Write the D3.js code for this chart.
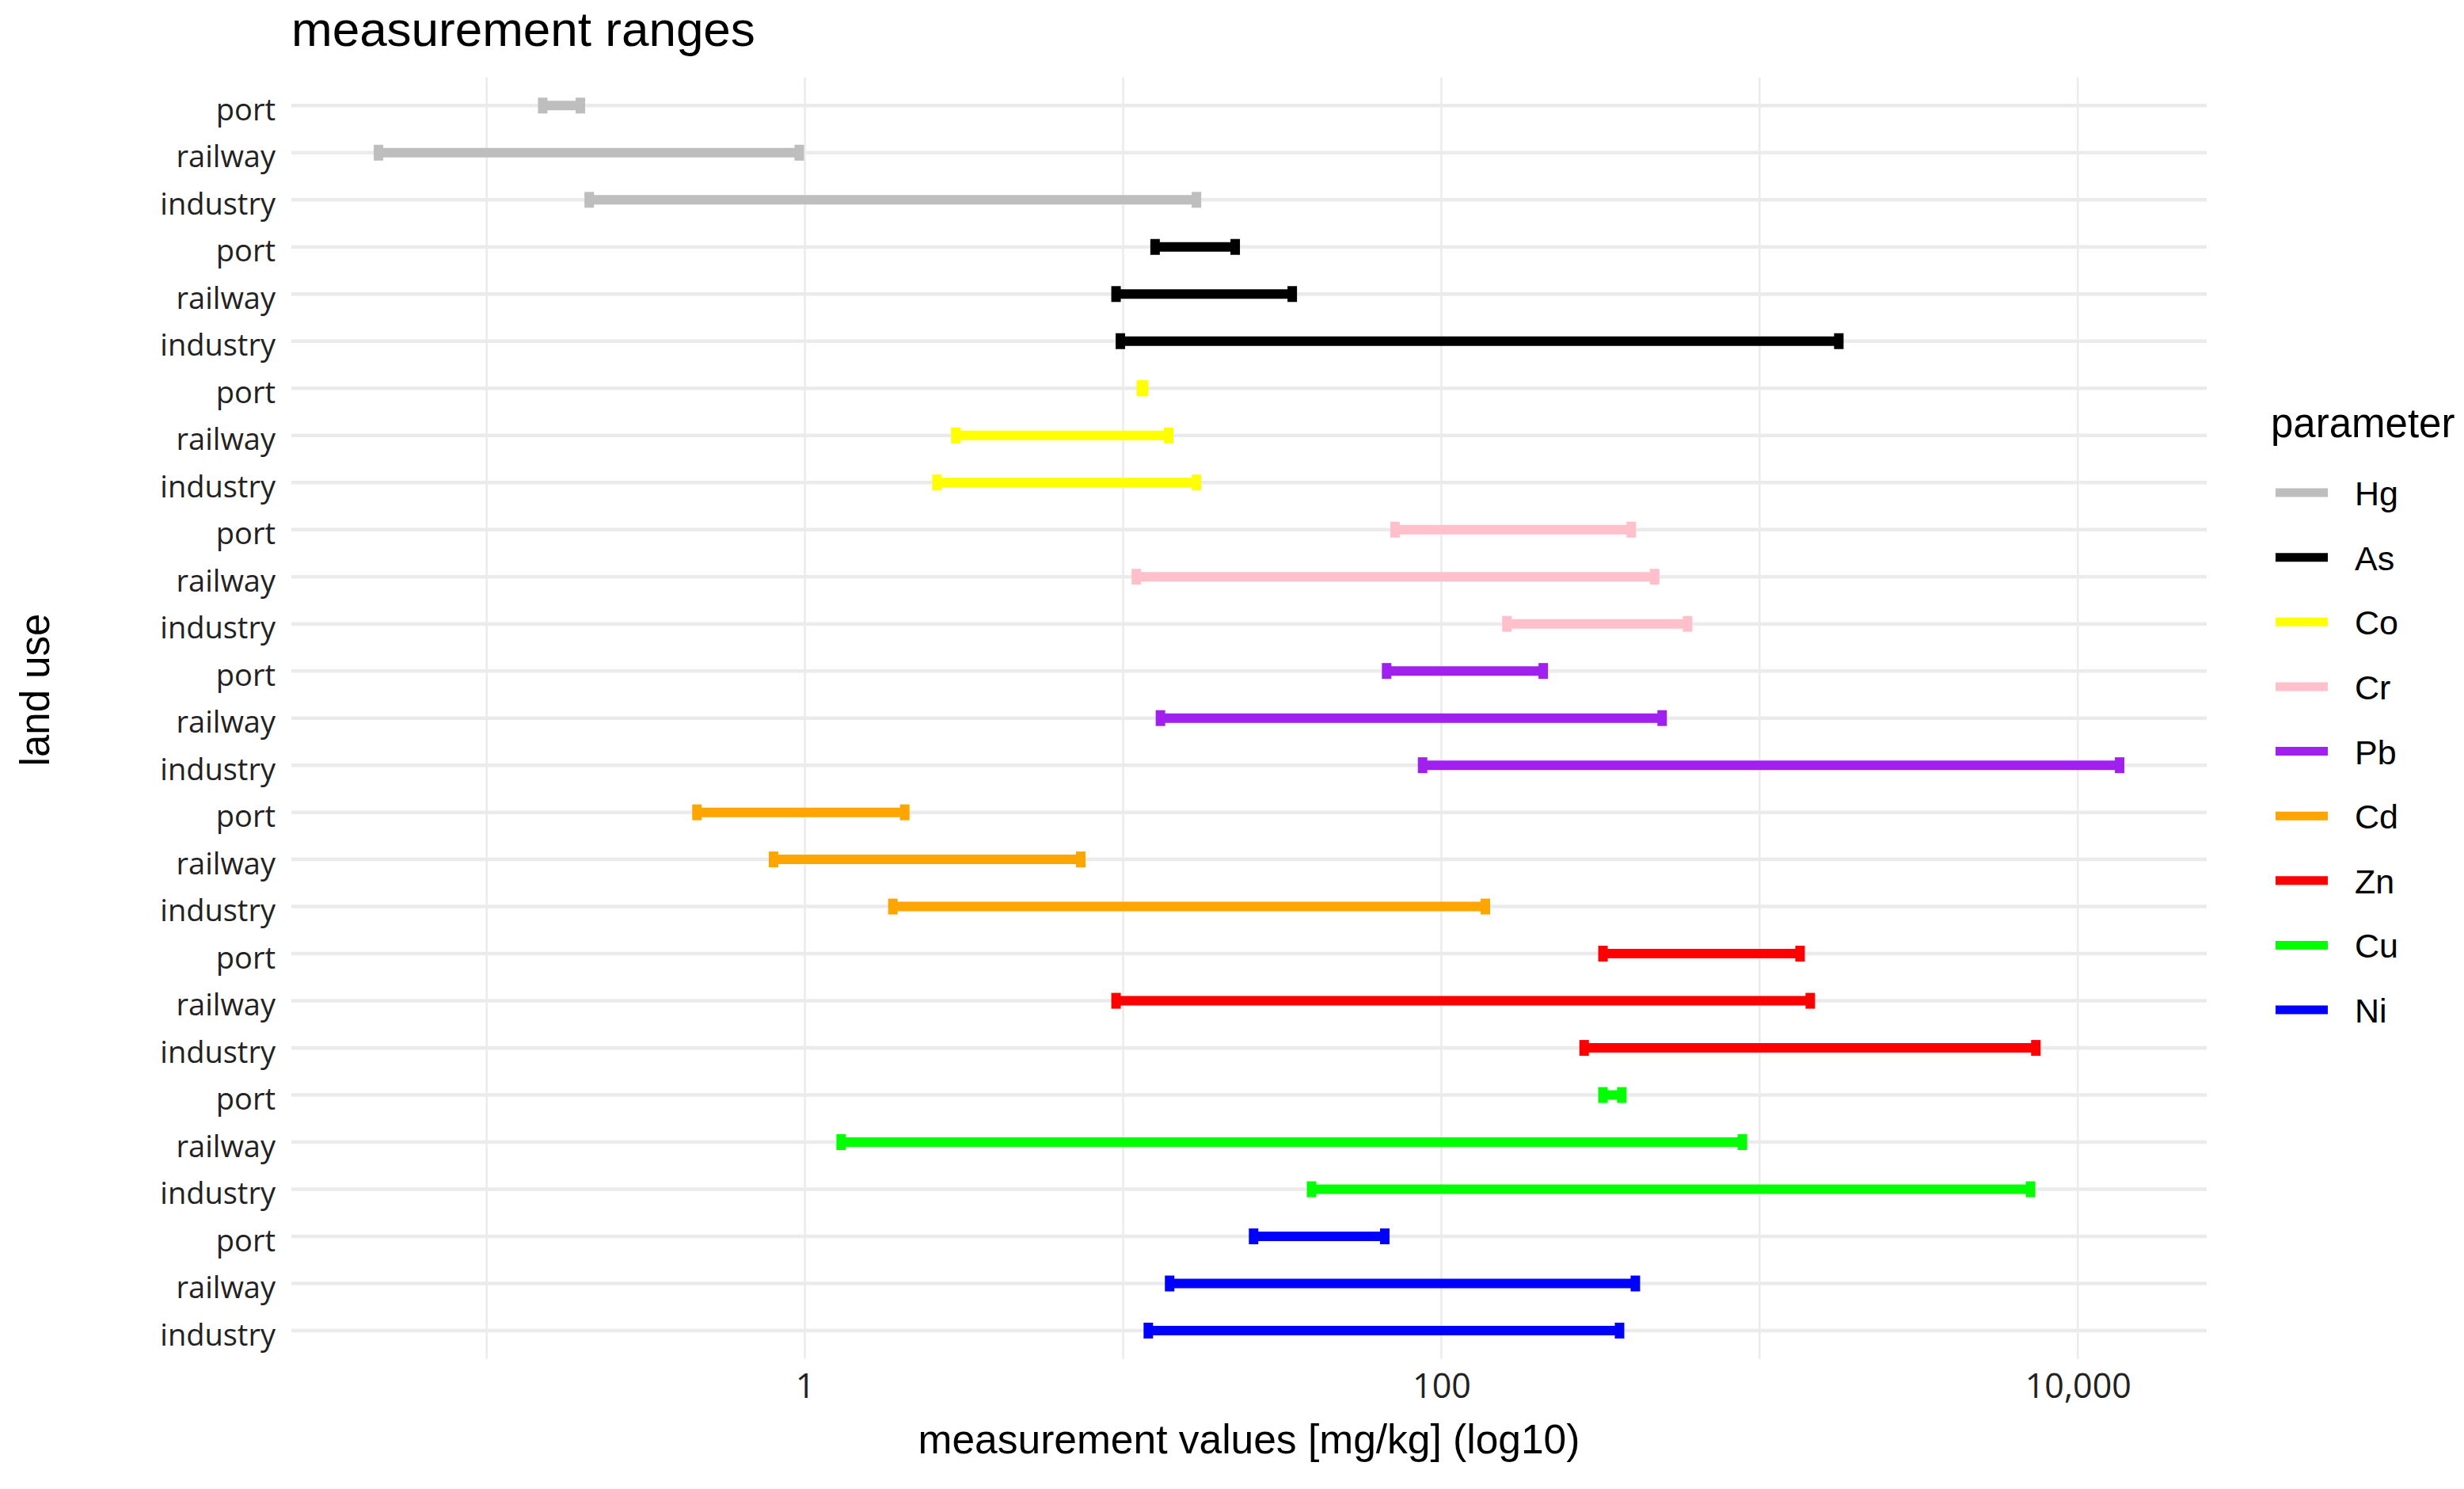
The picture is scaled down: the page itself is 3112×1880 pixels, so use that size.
<!DOCTYPE html>
<html>
<head>
<meta charset="utf-8">
<script src="https://cdn.jsdelivr.net/npm/d3@7"></script>
<style>
  html, body { margin: 0; padding: 0; background: #ffffff; }
  svg { display: block; }
</style>
</head>
<body>
<svg id="chart" width="3112" height="1880"></svg>
<script>
// ---------- data ----------
const params = ["Hg", "As", "Co", "Cr", "Pb", "Cd", "Zn", "Cu", "Ni"];
const landUses = ["port", "railway", "industry"];
const paramColors = ["#bebebe", "#000000", "#ffff00", "#ffc0cb", "#a020f0", "#ffa500", "#ff0000", "#00ff00", "#0000ff"];
// minimum values [mg/kg] per parameter, in order port, railway, industry
const minValues = [
  [0.150, 0.0457, 0.21],
  [12.6, 9.5, 9.8],
  [11.4, 2.98, 2.60],
  [71.5, 11.0, 160.7],
  [67.3, 13.1, 87.3],
  [0.458, 0.797, 1.89],
  [322, 9.5, 281],
  [322, 1.30, 39.1],
  [25.7, 14.0, 12.0]
];
// maximum values [mg/kg] per parameter, in order port, railway, industry
const maxValues = [
  [0.197, 0.96, 17.0],
  [22.5, 34.0, 1774],
  [11.6, 13.9, 17.0],
  [395, 468, 594],
  [209, 494, 13530],
  [2.06, 7.36, 137.5],
  [1340, 1443, 7380],
  [369, 883, 7100],
  [66.4, 407, 363]
];
const labelTicks = [1, 100, 10000];
const gridTicks = [0.1, 1, 10, 100, 1000, 10000];

const titleText = "measurement ranges";
const xTitle = "measurement values [mg/kg] (log10)";
const yTitle = "land use";
const legendTitle = "parameter";

// ---------- layout ----------
const panel = { left: 368, right: 2787, top: 97.6, bottom: 1715.7 };
const svg = d3.select("#chart");

const rows = params.flatMap((p, i) => landUses.map((l, j) => ({
  param: p, land: l, key: p + "|" + l, color: paramColors[i],
  min: minValues[i][j], max: maxValues[i][j]
})));

const allVals = rows.flatMap(r => [r.min, r.max]);
const lmin = Math.log10(d3.min(allVals)), lmax = Math.log10(d3.max(allVals));
const ex = (lmax - lmin) * 0.05;
const x = d3.scaleLog()
  .domain([Math.pow(10, lmin - ex), Math.pow(10, lmax + ex)])
  .range([panel.left, panel.right]);

const y = d3.scalePoint()
  .domain(rows.map(r => r.key))
  .range([panel.top, panel.bottom])
  .padding(0.6);

// ---------- grid ----------
const grid = svg.append("g");
grid.selectAll("line.v").data(gridTicks).join("line")
  .attr("class", "v")
  .attr("x1", d => x(d)).attr("x2", d => x(d))
  .attr("y1", panel.top).attr("y2", panel.bottom)
  .attr("stroke", "#ebebeb").attr("stroke-width", 2.5);
grid.selectAll("line.h").data(rows).join("line")
  .attr("class", "h")
  .attr("x1", panel.left).attr("x2", panel.right)
  .attr("y1", d => y(d.key)).attr("y2", d => y(d.key))
  .attr("stroke", "#ebebeb").attr("stroke-width", 4.5);

// ---------- error bars ----------
const capH = 20, lw = 12;
const bars = svg.append("g").selectAll("g").data(rows).join("g");
bars.append("line")
  .attr("x1", d => x(d.min)).attr("x2", d => x(d.max))
  .attr("y1", d => y(d.key)).attr("y2", d => y(d.key))
  .attr("stroke", d => d.color).attr("stroke-width", lw);
bars.append("line")
  .attr("x1", d => x(d.min)).attr("x2", d => x(d.min))
  .attr("y1", d => y(d.key) - capH / 2).attr("y2", d => y(d.key) + capH / 2)
  .attr("stroke", d => d.color).attr("stroke-width", lw);
bars.append("line")
  .attr("x1", d => x(d.max)).attr("x2", d => x(d.max))
  .attr("y1", d => y(d.key) - capH / 2).attr("y2", d => y(d.key) + capH / 2)
  .attr("stroke", d => d.color).attr("stroke-width", lw);

// ---------- axes ----------
const yAxis = svg.append("g")
  .attr("transform", `translate(${panel.left},0)`)
  .call(d3.axisLeft(y).tickSize(0).tickPadding(20).tickFormat(k => k.split("|")[1]));
yAxis.select(".domain").remove();
yAxis.selectAll("text")
  .attr("dy", null).attr("y", 18)
  .attr("font-family", "'Open Sans', sans-serif").attr("font-size", 38)
  .attr("fill", "#222");

const xAxis = svg.append("g")
  .attr("transform", `translate(0,${panel.bottom})`)
  .call(d3.axisBottom(x).tickValues(labelTicks).tickSize(0).tickFormat(d3.format(",")));
xAxis.select(".domain").remove();
xAxis.selectAll("text")
  .attr("dy", null).attr("y", 1765 - panel.bottom)
  .attr("font-family", "'Open Sans', sans-serif").attr("font-size", 43)
  .attr("fill", "#222");

// ---------- titles ----------
svg.append("text")
  .attr("x", panel.left).attr("y", 58)
  .attr("font-family", "'Liberation Sans', Arial, sans-serif").attr("font-size", 62)
  .attr("fill", "#000").text(titleText);

svg.append("text")
  .attr("x", (panel.left + panel.right) / 2).attr("y", 1835)
  .attr("text-anchor", "middle")
  .attr("font-family", "'Liberation Sans', Arial, sans-serif").attr("font-size", 51.5)
  .attr("fill", "#000").text(xTitle);

svg.append("text")
  .attr("transform", "translate(62,871) rotate(-90)")
  .attr("text-anchor", "middle")
  .attr("font-family", "'Liberation Sans', Arial, sans-serif").attr("font-size", 51)
  .attr("fill", "#000").text(yTitle);

// ---------- legend ----------
const legend = svg.append("g");
legend.append("text")
  .attr("x", 2868).attr("y", 552)
  .attr("font-family", "'Liberation Sans', Arial, sans-serif").attr("font-size", 51)
  .attr("fill", "#000").text(legendTitle);
const ly = d3.scalePoint().domain(params).range([622, 1275]);
const items = legend.selectAll("g.item").data(params).join("g").attr("class", "item");
items.append("line")
  .attr("x1", 2874).attr("x2", 2940)
  .attr("y1", d => ly(d)).attr("y2", d => ly(d))
  .attr("stroke", (d, i) => paramColors[i]).attr("stroke-width", 11);
items.append("text")
  .attr("x", 2974).attr("y", d => ly(d) + 16)
  .attr("font-family", "'Liberation Sans', Arial, sans-serif").attr("font-size", 43)
  .attr("fill", "#000").text(d => d);
</script>
</body>
</html>
